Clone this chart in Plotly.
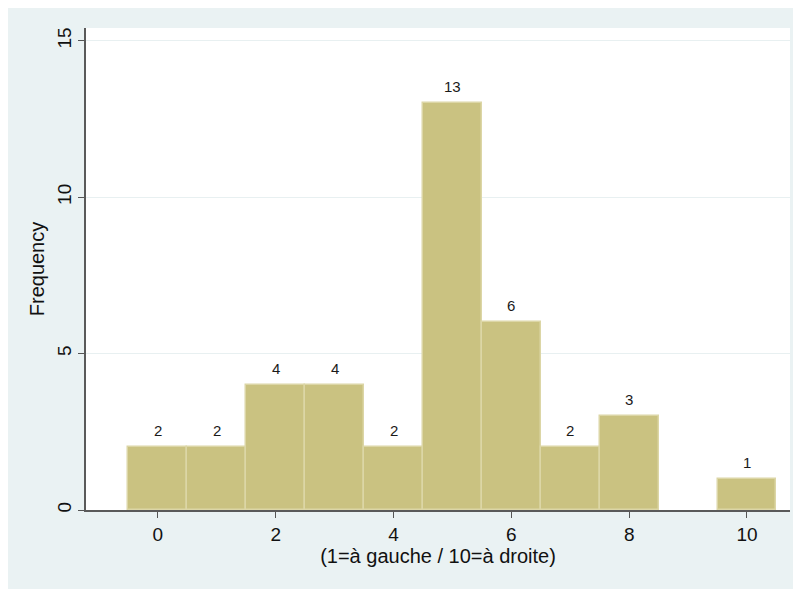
import plotly.graph_objects as go

bins = [0, 1, 2, 3, 4, 5, 6, 7, 8, 10]
counts = [2, 2, 4, 4, 2, 13, 6, 2, 3, 1]
x_ticks = [0, 2, 4, 6, 8, 10]
y_ticks = [0, 5, 10, 15]
x_title = "(1=à gauche / 10=à droite)"
y_title = "Frequency"

FONT = "Liberation Sans, Arial, sans-serif"
BG = "#EAF2F3"

fig = go.Figure()
fig.add_trace(go.Bar(
    x=bins, y=counts, width=1,
    marker=dict(color="#CAC281", line=dict(color="#DCD6A6", width=1.5)),
    hoverinfo="x+y",
))

for b, c in zip(bins, counts):
    fig.add_annotation(x=b, y=c, text=str(c), showarrow=False,
                       yanchor="bottom", yshift=6,
                       font=dict(family=FONT, size=15, color="#1a1a1a"))

fig.update_layout(
    width=801, height=589,
    margin=dict(l=78, r=19, t=20, b=87),
    paper_bgcolor=BG, plot_bgcolor="white",
    showlegend=False,
    font=dict(family=FONT, color="#111"),
    xaxis=dict(
        range=[-1.22, 10.73], tickvals=x_ticks, ticks="outside", ticklen=6,
        tickcolor="#555", tickwidth=1.2,
        showline=True, linecolor="#5a5a5a", linewidth=1.5, showgrid=False,
        zeroline=False, tickfont=dict(size=19),
        title=dict(text=x_title, font=dict(size=20), standoff=1),
    ),
    yaxis=dict(
        range=[0, 15.41], tickvals=y_ticks, ticks="outside", ticklen=6,
        tickcolor="#555", tickwidth=1.2, tickangle=-90,
        showline=True, linecolor="#5a5a5a", linewidth=1.5,
        showgrid=True, gridcolor="#E8F0F1", gridwidth=1.2, zeroline=False,
        tickfont=dict(size=19),
        title=dict(text=y_title, font=dict(size=20), standoff=4),
    ),
    bargap=0,
)

fig.write_html("out.html")
